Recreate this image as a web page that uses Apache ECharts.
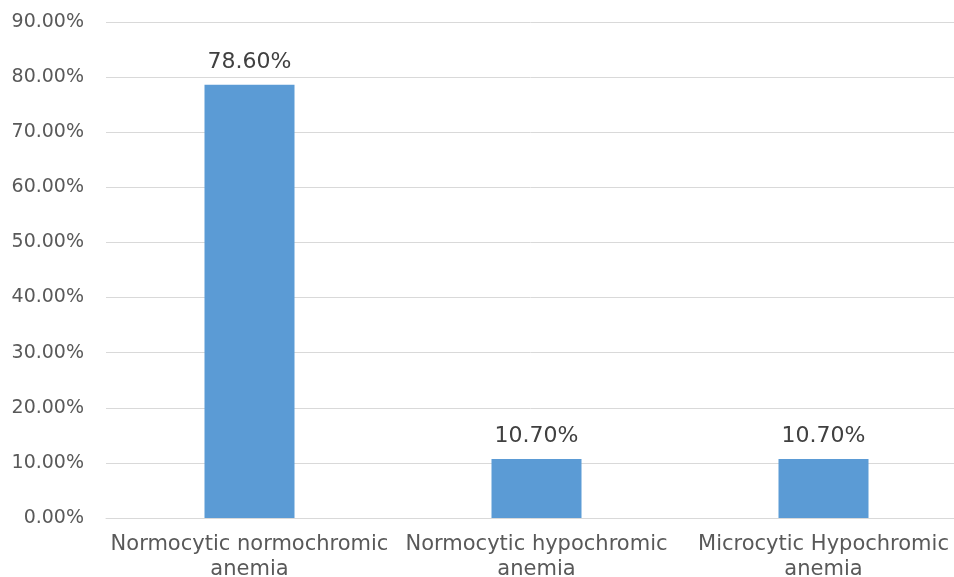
<!DOCTYPE html>
<html>
<head>
<meta charset="utf-8">
<script src="https://cdn.jsdelivr.net/npm/echarts@6/dist/echarts.min.js"></script>
<style>html,body{margin:0;padding:0;background:#fff}#c{width:954px;height:577px}</style>
</head>
<body>
<div id="c"></div>
<script>
const categories = ['Normocytic normochromic\nanemia', 'Normocytic hypochromic\nanemia', 'Microcytic Hypochromic\nanemia'];
const values = [78.6, 10.7, 10.7];
const yMin = 0, yMax = 90, yStep = 10;

const chart = echarts.init(document.getElementById('c'), null, {renderer: 'canvas'});
chart.setOption({
  animation: false,
  grid: {left: 106, width: 861, top: 22, height: 496, containLabel: false, outerBoundsMode: 'none'},
  xAxis: {
    type: 'category',
    data: categories,
    axisLine: {lineStyle: {color: '#d9d9d9', width: 1}},
    axisTick: {show: false},
    axisLabel: {color: '#595959', fontSize: 21, fontFamily: 'DejaVu Sans', lineHeight: 25, margin: 14, interval: 0}
  },
  yAxis: {
    type: 'value',
    min: yMin, max: yMax, interval: yStep,
    axisLine: {show: false},
    axisTick: {show: false},
    splitLine: {lineStyle: {color: '#d9d9d9', width: 1}},
    axisLabel: {color: '#595959', fontSize: 19, fontFamily: 'DejaVu Sans', margin: 22,
      formatter: v => v.toFixed(2) + '%'}
  },
  series: [{
    type: 'bar',
    data: values,
    barWidth: 90,
    itemStyle: {color: '#5b9bd5'},
    label: {show: true, position: 'top', distance: 12, color: '#404040', fontSize: 22, fontFamily: 'DejaVu Sans',
      formatter: p => p.value.toFixed(2) + '%'}
  }]
});
</script>
</body>
</html>
